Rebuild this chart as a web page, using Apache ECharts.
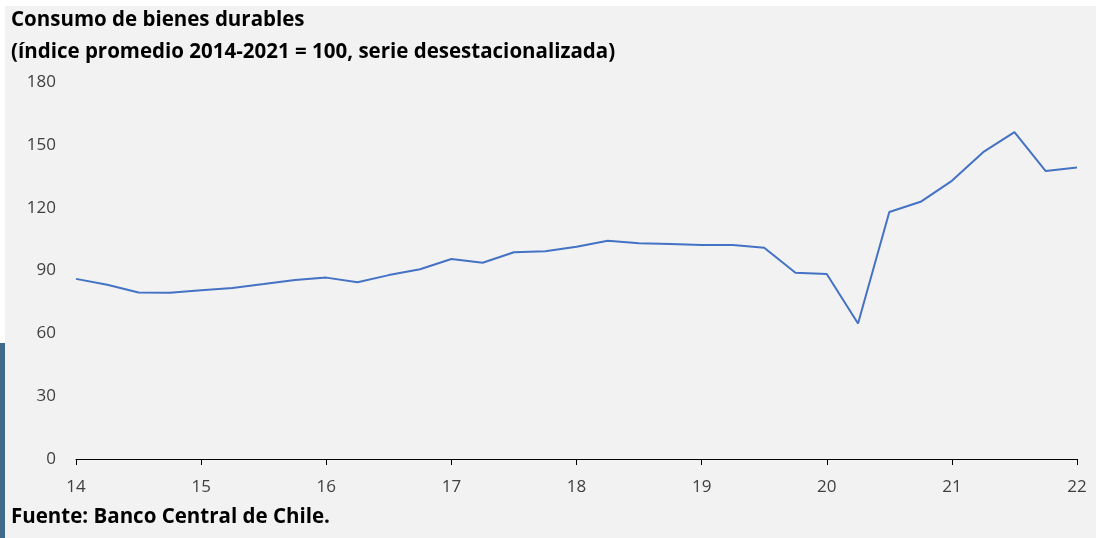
<!DOCTYPE html>
<html>
<head>
<meta charset="utf-8">
<script src="https://cdn.jsdelivr.net/npm/echarts@6/dist/echarts.min.js"></script>
<style>
  html, body { margin: 0; padding: 0; background: #ffffff; }
  #chart { width: 1096px; height: 538px; }
</style>
</head>
<body>
<div id="chart"></div>
<script>
// quarters 2014T1 .. 2022T1
const quarters = [];
for (let y = 14; y <= 22; y++) {
    for (let q = 1; q <= 4; q++) {
        if (y === 22 && q > 1) break;
        quarters.push('20' + y + 'T' + q);
    }
}

const durables = [
    86.0, 83.2, 79.5, 79.4, 80.6, 81.7, 83.5, 85.5,
    86.6, 84.4, 87.8, 90.6, 95.5, 93.7, 98.7, 99.2,
    101.3, 104.2, 103.0, 102.6, 102.2, 102.2, 100.9, 88.9,
    88.3, 64.7, 117.9, 122.8, 132.8, 146.5, 156.1, 137.5,
    139.2
];

const yTicks = [0, 30, 60, 90, 120, 150, 180];

const titleLines = [
    'Consumo de bienes durables',
    '(índice promedio 2014-2021 = 100, serie desestacionalizada)'
];
const sourceText = 'Fuente: Banco Central de Chile.';

const font = '"Open Sans", "Noto Sans", sans-serif';

let myChart = echarts.init(document.getElementById('chart'));

let option = {
    backgroundColor: '#f2f2f2',
    animation: false,
    graphic: [
        // white frame strips and the blue edge on the left
        { type: 'rect', left: 0, top: 0, shape: { width: 1096, height: 6 }, style: { fill: '#ffffff' } },
        { type: 'rect', left: 0, top: 0, shape: { width: 5, height: 343 }, style: { fill: '#ffffff' } },
        { type: 'rect', left: 0, top: 343, shape: { width: 5, height: 195 }, style: { fill: '#41698a' } },
        {
            type: 'text', left: 11, top: 10,
            style: { text: titleLines[0], font: 'bold 20.5px ' + font, fill: '#000000' }
        },
        {
            type: 'text', left: 11, top: 42,
            style: { text: titleLines[1], font: 'bold 20.5px ' + font, fill: '#000000' }
        },
        {
            type: 'text', left: 11, top: 507,
            style: { text: sourceText, font: 'bold 20.5px ' + font, fill: '#000000' }
        }
    ],
    grid: {
        left: 76,
        right: 19,
        top: 82,
        bottom: 79,
        containLabel: false
    },
    xAxis: {
        type: 'category',
        data: quarters,
        boundaryGap: false,
        axisLine: { lineStyle: { color: '#000000', width: 1 } },
        axisTick: { interval: 3, length: 6, lineStyle: { color: '#000000' } },
        axisLabel: {
            interval: 3,
            margin: 20,
            color: '#404040',
            fontSize: 17,
            fontFamily: font,
            formatter: v => v.slice(2, 4)
        },
        splitLine: { show: false }
    },
    yAxis: {
        type: 'value',
        min: yTicks[0],
        max: yTicks[yTicks.length - 1],
        interval: 30,
        axisLine: { show: false },
        axisTick: { show: false },
        splitLine: { show: false },
        axisLabel: {
            margin: 20,
            color: '#404040',
            fontSize: 17,
            fontFamily: font
        }
    },
    series: [
        {
            type: 'line',
            data: durables,
            symbol: 'none',
            lineStyle: { color: '#4472c4', width: 2 }
        }
    ]
};

myChart.setOption(option);
</script>
</body>
</html>
